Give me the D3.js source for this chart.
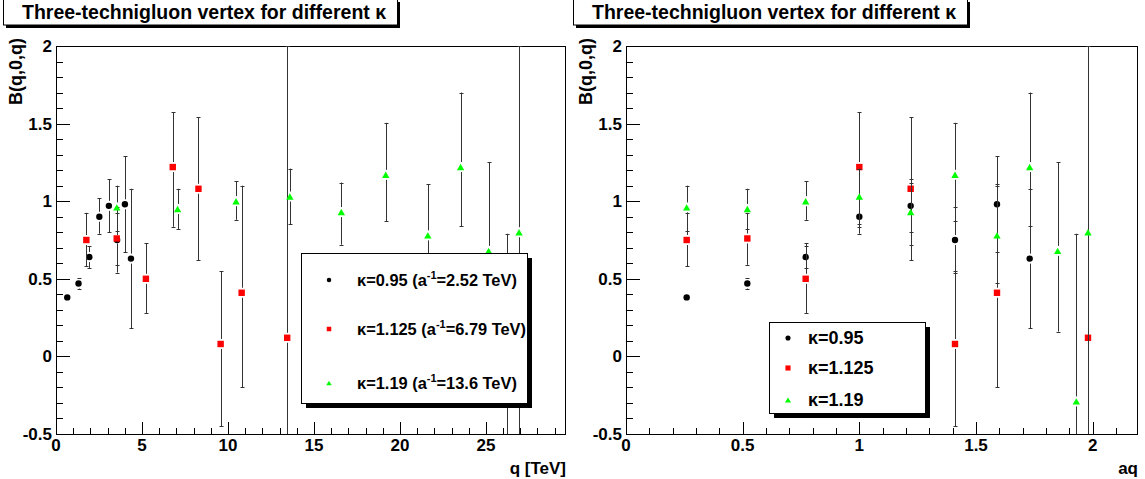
<!DOCTYPE html>
<html>
<head>
  <meta charset="UTF-8">
  <title>Three-technigluon vertex</title>
  <script src="https://d3js.org/d3.v7.min.js"></script>
  <style>
    body { margin: 0; background: #fff; }
    svg { display: block; }
    text { font-family: "Liberation Sans", Arial, sans-serif; font-weight: bold; fill: #000; }
  </style>
</head>
<body>
  <svg id="chart" width="1145" height="479"></svg>
  <script>
    // lattice momenta (aq) and inverse lattice spacings (TeV)
    const aq = [0.26, 0.52, 0.77, 1.00, 1.22, 1.41, 1.59, 1.73, 1.85, 1.93, 1.98];
    const kappas = ["0.95", "1.125", "1.19"];
    const ainv = [2.52, 6.79, 13.6];
    const ainvLabels = ["2.52", "6.79", "13.6"];

    const blackIdx = [0, 1, 2, 3, 4, 5, 6, 7];
    const blackVal = [0.38, 0.47, 0.64, 0.90, 0.97, 0.75, 0.98, 0.63];
    const blackHi = [0.01, 0.035, 0.07, 0.12, 0.17, 0.21, 0.31, 0.45];
    const blackLo = [0.01, 0.035, 0.07, 0.11, 0.17, 0.21, 0.31, 0.45];

    const redIdx = [0, 1, 2, 3, 4, 5, 6, 10];
    const redVal = [0.75, 0.76, 0.50, 1.22, 1.08, 0.08, 0.41, 0.12];
    const redHi = [0.175, 0.165, 0.23, 0.355, 0.46, 0.47, 0.69, 2.5];
    const redLo = [0.17, 0.17, 0.22, 0.385, 0.46, 0.53, 0.61, 2.5];

    const greenIdx = [0, 1, 2, 3, 4, 5, 6, 7, 8, 9, 10];
    const greenVal = [0.96, 0.95, 1.00, 1.03, 0.93, 1.17, 0.78, 1.22, 0.68, -0.29, 0.80];
    const greenHi = [0.14, 0.13, 0.13, 0.18, 0.19, 0.335, 0.33, 0.48, 0.57, 1.08, 2.0];
    const greenLo = [0.15, 0.13, 0.12, 0.18, 0.21, 0.30, 0.31, 0.38, 0.52, 1.08, 2.0];

    const series = [
      { idx: blackIdx, val: blackVal, hi: blackHi, lo: blackLo, shape: "circle", color: "#000" },
      { idx: redIdx, val: redVal, hi: redHi, lo: redLo, shape: "square", color: "#ff0000" },
      { idx: greenIdx, val: greenVal, hi: greenHi, lo: greenLo, shape: "triangle", color: "#00ff00" }
    ];

    const svg = d3.select("#chart");
    const yTop = 46, yBottom = 434;

    const drawMarker = (g, s, cx, cy, sc = 1) => {
      const h = 3.2 * sc;
      if (s.shape === "circle") {
        g.append("circle").attr("cx", cx).attr("cy", cy).attr("r", h).attr("fill", s.color);
      } else if (s.shape === "square") {
        g.append("rect").attr("x", cx - h).attr("y", cy - h).attr("width", 2 * h).attr("height", 2 * h).attr("fill", s.color);
      } else {
        g.append("path").attr("d", `M${cx - h - 0.5},${cy + h} L${cx + h + 0.5},${cy + h} L${cx},${cy - h} Z`)
          .attr("fill", s.color);
      }
    };

    const drawPanel = (p) => {
      const x = d3.scaleLinear().domain(p.xDomain).range([p.left, p.right]);
      const y = d3.scaleLinear().domain([-0.5, 2]).range([yBottom, yTop]);
      const g = svg.append("g");

      // title box with shadow
      g.append("rect").attr("x", p.titleX + 3).attr("y", 2).attr("width", p.titleW).attr("height", 26).attr("fill", "#000");
      g.append("rect").attr("x", p.titleX + 0.5).attr("y", -1).attr("width", p.titleW).attr("height", 26)
        .attr("fill", "#fff").attr("stroke", "#000");
      g.append("text").attr("x", p.titleX + 19).attr("y", 19).style("font-size", "19.5px")
        .text("Three-technigluon vertex for different κ");

      // frame
      g.append("rect").attr("x", p.left + 0.5).attr("y", yTop + 0.5)
        .attr("width", p.right - p.left).attr("height", yBottom - yTop)
        .attr("fill", "none").attr("stroke", "#000");

      // y ticks
      const yMinor = d3.range(-5, 21).map(d => d / 10);
      g.selectAll(".ytick").data(yMinor).enter().append("line")
        .attr("x1", p.left).attr("x2", (d, i) => p.left + (i % 5 === 0 ? 14 : 7))
        .attr("y1", d => Math.round(y(d)) + 0.5).attr("y2", d => Math.round(y(d)) + 0.5)
        .attr("stroke", "#000");
      g.selectAll(".ylab").data([-0.5, 0, 0.5, 1, 1.5, 2]).enter().append("text")
        .attr("x", p.left - 4).attr("y", d => y(d) + 6)
        .attr("text-anchor", "end").style("font-size", "17px")
        .text(d => d);

      // x ticks
      g.selectAll(".xtick").data(p.xMinor).enter().append("line")
        .attr("x1", d => Math.round(x(d)) + 0.5).attr("x2", d => Math.round(x(d)) + 0.5)
        .attr("y1", yBottom).attr("y2", (d, i) => yBottom - (i % 5 === 0 ? 12 : 6))
        .attr("stroke", "#000");
      g.selectAll(".xlab").data(p.xMajor).enter().append("text")
        .attr("x", d => x(d)).attr("y", 451)
        .attr("text-anchor", "middle").style("font-size", "17px")
        .text(d => d);

      // axis titles
      g.append("text").attr("transform", `translate(${p.left - 34},38) rotate(-90)`)
        .attr("text-anchor", "end").style("font-size", "18px").text("B(q,0,q)");
      g.append("text").attr("x", p.right + 1).attr("y", 474).attr("text-anchor", "end")
        .style("font-size", "17px").text(p.xTitle);

      // clip
      const clipId = "clip-" + p.name;
      svg.append("defs").append("clipPath").attr("id", clipId).append("rect")
        .attr("x", p.left).attr("y", yTop).attr("width", p.right - p.left + 1).attr("height", yBottom - yTop + 1);
      const plot = g.append("g").attr("clip-path", `url(#${clipId})`);

      series.forEach((s, k) => {
        const pts = s.idx.map((ix, i) => ({
          x: p.xOf(aq[ix], k), v: s.val[i], hi: s.hi[i], lo: s.lo[i]
        }));
        const gap = 5;
        pts.forEach(d => {
          const cx = Math.round(x(d.x)) + 0.5, cy = y(d.v);
          const yt = Math.max(y(d.v + d.hi), yTop), yb = Math.min(y(d.v - d.lo), yBottom);
          if (yt < cy - gap) {
            plot.append("line").attr("x1", cx).attr("x2", cx).attr("y1", yt).attr("y2", cy - gap).attr("stroke", "#333");
          }
          if (yb > cy + gap) {
            plot.append("line").attr("x1", cx).attr("x2", cx).attr("y1", cy + gap).attr("y2", yb).attr("stroke", "#333");
          }
          [yt, yb].forEach(yy => {
            if (Math.abs(yy - cy) > gap && yy < yBottom) {
              plot.append("line").attr("x1", cx - 2).attr("x2", cx + 2)
                .attr("y1", Math.round(yy) + 0.5).attr("y2", Math.round(yy) + 0.5).attr("stroke", "#333");
            }
          });
        });
        pts.forEach(d => drawMarker(plot, s, x(d.x), y(d.v)));
      });

      // legend
      const L = p.legend;
      g.append("rect").attr("x", L.x + 5).attr("y", L.y + 5).attr("width", L.w).attr("height", L.h).attr("fill", "#000");
      g.append("rect").attr("x", L.x + 0.5).attr("y", L.y + 0.5).attr("width", L.w).attr("height", L.h)
        .attr("fill", "#fff").attr("stroke", "#000");
      series.forEach((s, k) => {
        const ry = L.y + L.rows[k];
        drawMarker(g, s, L.x + L.mx, ry, L.ms);
        const t = g.append("text").attr("x", L.x + L.tx).attr("y", ry + 6).style("font-size", L.fs + "px");
        t.append("tspan").text("κ=" + kappas[k]);
        if (L.full) {
          t.append("tspan").text(" (a");
          t.append("tspan").attr("dy", -7).style("font-size", "11px").text("-1");
          t.append("tspan").attr("dy", 7).text("=" + ainvLabels[k] + " TeV)");
        }
      });
    };

    drawPanel({
      name: "q", left: 56, right: 565, xDomain: [0, 29.6],
      xMinor: d3.range(0, 30), xMajor: [0, 5, 10, 15, 20, 25],
      xTitle: "q [TeV]", xOf: (a, k) => a * ainv[k],
      titleX: 3, titleW: 394,
      legend: { x: 301, y: 253, w: 226, h: 150, mx: 28, tx: 56, rows: [27, 76, 130], full: true, fs: 16.4, ms: 0.7 }
    });

    drawPanel({
      name: "aq", left: 626, right: 1137, xDomain: [0, 2.19],
      xMinor: d3.range(0, 22).map(d => d / 10), xMajor: [0, 0.5, 1, 1.5, 2],
      xTitle: "aq", xOf: (a) => a,
      titleX: 573, titleW: 394,
      legend: { x: 769, y: 322, w: 156, h: 91, mx: 19, tx: 39, rows: [16, 46, 78], full: false, fs: 18, ms: 0.8 }
    });
  </script>
</body>
</html>
